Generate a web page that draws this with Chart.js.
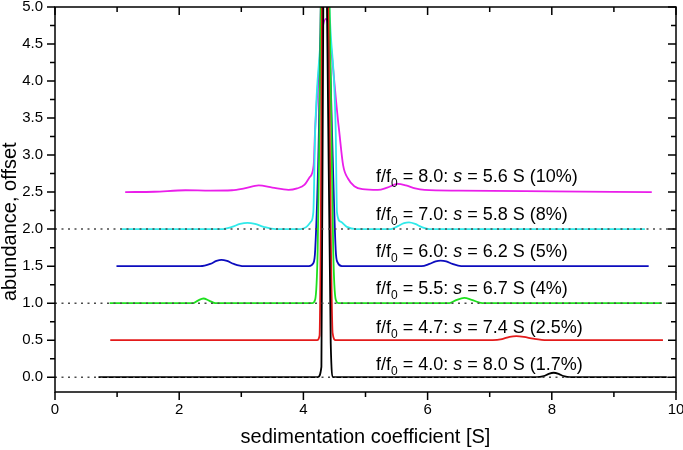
<!DOCTYPE html>
<html>
<head>
<meta charset="utf-8">
<script src="https://cdn.jsdelivr.net/npm/chart.js@4.4.1/dist/chart.umd.min.js"></script>
<style>
  html, body { margin: 0; padding: 0; background: #fff; }
</style>
</head>
<body>
<canvas id="myChart" width="683" height="450"></canvas>
<script>
// ---- data (x in S, y = abundance + offset) ----
var blackX = [0.70, 4.23, 4.29, 4.32, 4.35, 4.38, 4.44, 4.48, 7.75, 7.87, 7.95, 8.03, 8.11, 8.19, 8.30, 9.85];
var blackY = [0, 0, 0.14, 5.0, 6.0, 5.0, 0.46, 0, 0, 0.015, 0.045, 0.06, 0.045, 0.015, 0, 0];

var redX = [0.89, 4.22, 4.26, 4.28, 4.30, 4.34, 4.40, 4.44, 4.47, 4.52, 7.05, 7.20, 7.32, 7.43, 7.55, 7.70, 7.92, 9.79];
var redY = [0.5, 0.5, 0.56, 2.0, 5.0, 6.5, 5.0, 2.0, 0.6, 0.5, 0.5, 0.515, 0.545, 0.555, 0.545, 0.52, 0.5, 0.5];

var greenX = [0.88, 2.22, 2.30, 2.39, 2.48, 2.58, 4.14, 4.19, 4.23, 4.26, 4.28, 4.35, 4.42, 4.45, 4.48, 4.52, 4.57, 6.35, 6.47, 6.59, 6.71, 6.88, 9.77];
var greenY = [1.0, 1.0, 1.035, 1.063, 1.035, 1.0, 1.0, 1.05, 1.72, 3.4, 5.0, 7.0, 5.0, 3.4, 1.72, 1.05, 1.0, 1.0, 1.045, 1.07, 1.045, 1.0, 1.0];

var blueX = [0.99, 2.34, 2.50, 2.60, 2.68, 2.77, 2.88, 3.04, 4.09, 4.16, 4.19, 4.25, 4.28, 4.35, 4.41, 4.46, 4.52, 4.55, 4.62, 5.90, 6.03, 6.13, 6.21, 6.30, 6.40, 6.54, 9.56];
var blueY = [1.5, 1.5, 1.53, 1.57, 1.585, 1.57, 1.53, 1.5, 1.5, 1.54, 1.72, 3.34, 5.0, 8.0, 5.0, 3.34, 1.72, 1.55, 1.5, 1.5, 1.53, 1.565, 1.575, 1.565, 1.53, 1.5, 1.5];

var cyanX = [1.07, 2.68, 2.85, 2.98, 3.10, 3.22, 3.36, 3.55, 3.95, 4.05, 4.12, 4.16, 4.19, 4.30, 4.36, 4.42, 4.52, 4.54, 4.60, 4.70, 4.85, 5.41, 5.52, 5.62, 5.70, 5.80, 5.90, 6.03, 9.50];
var cyanY = [2.0, 2.0, 2.03, 2.07, 2.085, 2.07, 2.03, 2.0, 2.0, 2.03, 2.1, 2.23, 3.34, 5.0, 7.0, 5.0, 3.34, 2.23, 2.1, 2.03, 2.0, 2.0, 2.04, 2.08, 2.09, 2.07, 2.03, 2.0, 2.0];

var magentaX = [1.13, 1.60, 2.10, 2.50, 2.85, 3.05, 3.28, 3.50, 3.76, 3.90, 4.02, 4.10, 4.165, 4.19, 4.36, 4.57, 4.64, 4.72, 4.82, 4.95, 5.20, 5.35, 5.52, 5.65, 5.80, 5.95, 6.50, 8.00, 9.61];
var magentaY = [2.5, 2.505, 2.525, 2.52, 2.525, 2.55, 2.59, 2.56, 2.53, 2.55, 2.6, 2.7, 2.86, 3.37, 4.84, 3.37, 2.86, 2.68, 2.58, 2.54, 2.53, 2.56, 2.61, 2.59, 2.55, 2.53, 2.52, 2.51, 2.5];

var seriesX = [blackX, redX, greenX, blueX, cyanX, magentaX];
var seriesY = [blackY, redY, greenY, blueY, cyanY, magentaY];
var seriesColors = ['#000000', '#e31a1a', '#1ee01e', '#0c0cbe', '#30eaea', '#ea1eea'];

// dotted reference lines
var refLevels = [0, 1.0, 2.0];

// annotation labels
var labelRatio = ['4.0', '4.7', '5.5', '6.0', '7.0', '8.0'];
var labelS = ['8.0', '7.4', '6.7', '6.2', '5.8', '5.6'];
var labelPct = ['1.7%', '2.5%', '4%', '5%', '8%', '10%'];
var labelBase = [0.095, 0.60, 1.13, 1.63, 2.12, 2.64];
var labelStartX = 5.17;

// axis ticks
var yTickValues = [0, 0.5, 1.0, 1.5, 2.0, 2.5, 3.0, 3.5, 4.0, 4.5, 5.0];
var yMinorTicks = [0.25, 0.75, 1.25, 1.75, 2.25, 2.75, 3.25, 3.75, 4.25, 4.75];
var xMajorTicks = [0, 2, 4, 6, 8, 10];
var xMinorTicks = [1, 3, 5, 7, 9];

var yTitle = 'abundance, offset';
var FONT = "'Liberation Sans', Arial, sans-serif";

function toPoints(xs, ys) {
  var pts = [];
  for (var i = 0; i < xs.length; i++) pts.push({x: xs[i], y: ys[i]});
  return pts;
}

var datasets = [];
refLevels.forEach(function (lvl) {
  datasets.push({
    data: [{x: 0, y: lvl}, {x: 10, y: lvl}],
    borderColor: '#4a4a4a',
    borderWidth: 1.5,
    borderDash: [2, 4.5],
    pointRadius: 0,
    tension: 0,
    order: 0
  });
});
for (var i = 0; i < seriesX.length; i++) {
  datasets.push({
    data: toPoints(seriesX[i], seriesY[i]),
    borderColor: seriesColors[i],
    borderWidth: 1.8,
    pointRadius: 0,
    cubicInterpolationMode: 'monotone',
    order: i + 1
  });
}

// frame with inward/outward ticks, y title + the f/f0 annotations
var frameAndLabels = {
  id: 'frameAndLabels',
  afterDatasetsDraw: function (chart) {
    var ctx = chart.ctx, a = chart.chartArea;
    var xs = chart.scales.x, ys = chart.scales.y;
    ctx.save();
    ctx.strokeStyle = '#000';
    ctx.lineWidth = 1.5;
    ctx.strokeRect(a.left, a.top, a.right - a.left, a.bottom - a.top);

    ctx.beginPath();
    function xTick(v, len) {
      var px = xs.getPixelForValue(v);
      ctx.moveTo(px, a.bottom); ctx.lineTo(px, a.bottom + len);
      ctx.moveTo(px, a.top); ctx.lineTo(px, a.top + len);
    }
    function yTick(v, len) {
      var py = ys.getPixelForValue(v);
      ctx.moveTo(a.left, py); ctx.lineTo(a.left - len, py);
      ctx.moveTo(a.right, py); ctx.lineTo(a.right - len, py);
    }
    xMajorTicks.forEach(function (v) { xTick(v, 8); });
    xMinorTicks.forEach(function (v) { xTick(v, 5); });
    yTickValues.forEach(function (v) { yTick(v, 8); });
    yMinorTicks.forEach(function (v) { yTick(v, 5); });
    ctx.stroke();

    ctx.fillStyle = '#000';

    // y title, sits a bit below the plot centre like the original
    ctx.save();
    ctx.translate(10, ys.getPixelForValue(2.1));
    ctx.rotate(-Math.PI / 2);
    ctx.font = '20px ' + FONT;
    ctx.textAlign = 'center';
    ctx.textBaseline = 'middle';
    ctx.fillText(yTitle, 0, 0);
    ctx.restore();

    ctx.textBaseline = 'alphabetic';
    ctx.textAlign = 'left';
    for (var k = 0; k < labelRatio.length; k++) {
      var px = xs.getPixelForValue(labelStartX);
      var py = ys.getPixelForValue(labelBase[k]);
      var parts = [
        ['f/f', '18px ' + FONT, 0],
        ['0', '12px ' + FONT, 5],
        [' = ' + labelRatio[k] + ': ', '18px ' + FONT, 0],
        ['s', 'italic 18px ' + FONT, 0],
        [' = ' + labelS[k] + ' S (' + labelPct[k] + ')', '18px ' + FONT, 0]
      ];
      parts.forEach(function (p) {
        ctx.font = p[1];
        ctx.fillText(p[0], px, py + p[2]);
        px += ctx.measureText(p[0]).width;
      });
    }
    ctx.restore();
  }
};

var ctx = document.getElementById('myChart');
var myChart = new Chart(ctx, {
  type: 'line',
  data: { datasets: datasets },
  options: {
    responsive: false,
    animation: false,
    layout: { padding: { top: 7, right: 7, left: 0, bottom: 0 } },
    plugins: { legend: { display: false }, tooltip: { enabled: false } },
    scales: {
      x: {
        type: 'linear',
        min: 0,
        max: 10,
        grid: { display: false, drawTicks: false },
        border: { display: false },
        ticks: {
          stepSize: 2,
          padding: 9,
          color: '#000',
          font: { family: FONT, size: 15 },
          maxRotation: 0
        },
        title: {
          display: true,
          text: 'sedimentation coefficient [S]',
          color: '#000',
          font: { family: FONT, size: 20 },
          padding: { top: 0, bottom: 1 }
        },
        afterFit: function (s) { s.height = 58; s.paddingLeft = 0; s.paddingRight = 0; }
      },
      y: {
        min: -0.2,
        max: 5.0,
        grid: { display: false, drawTicks: false },
        border: { display: false },
        afterBuildTicks: function (s) {
          s.ticks = yTickValues.map(function (v) { return {value: v}; });
        },
        ticks: {
          padding: 12,
          color: '#000',
          font: { family: FONT, size: 15 },
          callback: function (v) { return Number(v).toFixed(1); }
        },
        title: { display: false },
        afterFit: function (s) { s.width = 55; s.paddingTop = 0; s.paddingBottom = 0; }
      }
    }
  },
  plugins: [frameAndLabels]
});
</script>
</body>
</html>
